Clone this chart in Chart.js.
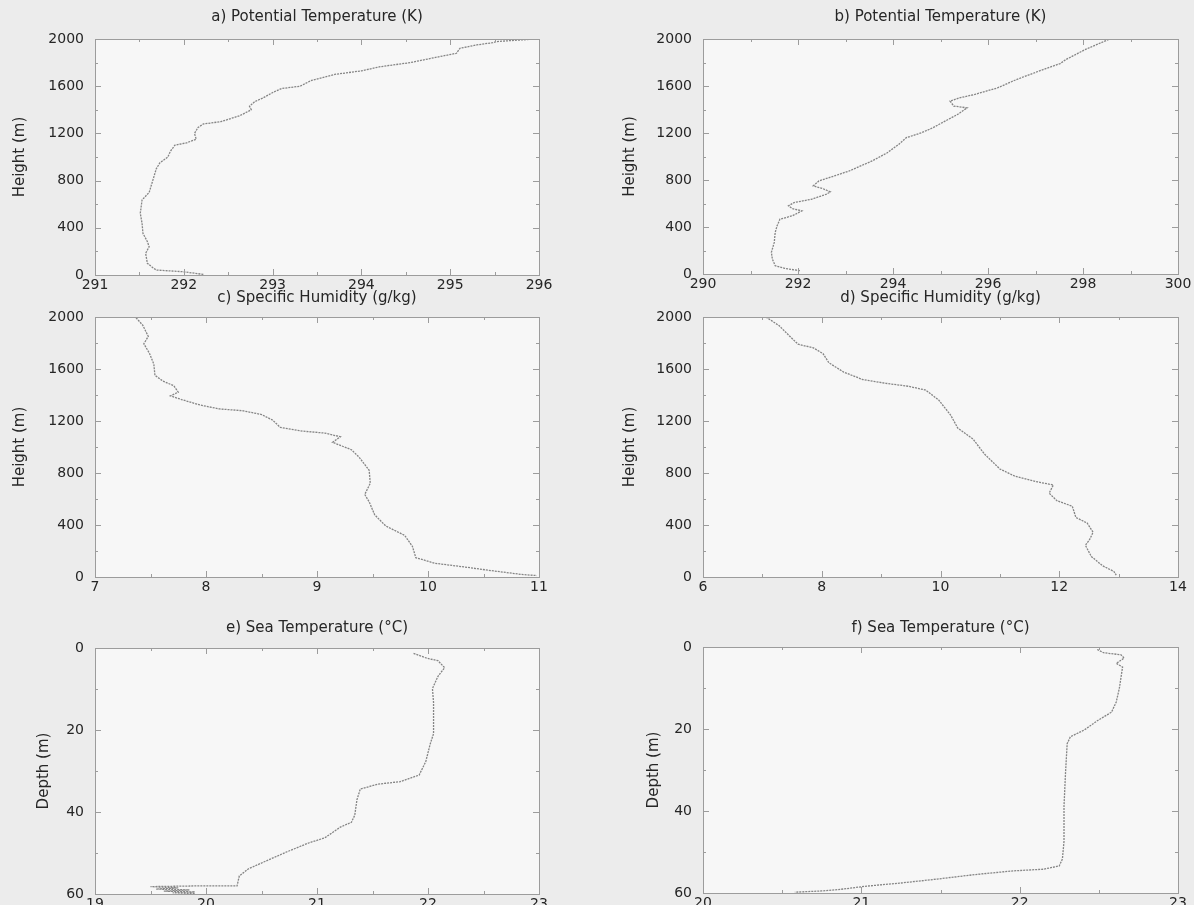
<!DOCTYPE html>
<html><head><meta charset="utf-8">
<script src="https://cdn.jsdelivr.net/npm/chart.js@4.4.1/dist/chart.umd.min.js"></script>
<style>
html,body{margin:0;padding:0;background:#ececec;}
#wrap{position:relative;width:1194px;height:905px;overflow:hidden;background:#ececec;}
canvas{position:absolute;}
</style></head><body><div id="wrap">
<canvas id="pa"></canvas><canvas id="pb"></canvas>
<canvas id="pc"></canvas><canvas id="pd"></canvas>
<canvas id="pe"></canvas><canvas id="pf"></canvas>
</div>
<script>
// ---------- data ----------
const aTemp = [292.22,291.99,291.69,291.66,291.59,291.57,291.61,291.59,291.54,291.53,291.51,291.53,291.61,291.65,291.69,291.73,291.82,291.85,291.90,292.03,292.14,292.12,292.16,292.22,292.42,292.63,292.76,292.74,292.80,292.89,293.01,293.10,293.31,293.44,293.70,294.00,294.21,294.55,294.81,295.07,295.11,295.30,295.48,295.52,295.75,295.97];
const aHeight = [5,28,42,57,99,184,240,282,353,438,523,636,700,800,900,950,1000,1050,1100,1120,1150,1200,1250,1280,1300,1350,1400,1430,1470,1500,1550,1580,1600,1650,1700,1730,1765,1800,1840,1879,1921,1950,1969,1978,1990,2000];

const bTemp = [292.04,291.72,291.52,291.46,291.44,291.50,291.52,291.56,291.62,291.88,292.08,291.88,291.80,291.92,292.28,292.60,292.68,292.52,292.32,292.44,292.76,293.08,293.40,293.56,293.88,294.12,294.28,294.60,294.84,295.16,295.36,295.56,295.28,295.20,295.40,295.72,296.20,296.60,297.16,297.52,297.64,298.04,298.56];
const bHeight = [28,48,71,127,184,269,354,410,467,495,537,557,580,608,636,679,699,727,750,792,834,877,934,962,1032,1103,1160,1202,1245,1315,1358,1414,1429,1471,1499,1528,1584,1655,1740,1791,1825,1909,2000];

const cHum = [7.37,7.43,7.48,7.44,7.49,7.53,7.54,7.61,7.71,7.75,7.68,7.78,7.95,8.12,8.33,8.50,8.60,8.67,8.87,9.07,9.21,9.14,9.31,9.38,9.47,9.48,9.43,9.47,9.52,9.62,9.79,9.86,9.89,10.06,10.33,10.57,10.84,10.98];
const cHeight = [1994,1937,1851,1794,1722,1637,1551,1508,1471,1422,1393,1365,1322,1293,1279,1250,1207,1150,1122,1107,1079,1036,979,921,821,721,635,578,478,392,320,235,149,106,77,49,20,11];

const dHum = [7.06,7.28,7.47,7.60,7.86,8.02,8.12,8.37,8.69,9.08,9.46,9.75,9.97,10.17,10.29,10.55,10.74,11.00,11.26,11.64,11.90,11.83,11.96,12.22,12.28,12.47,12.57,12.51,12.44,12.54,12.73,12.92,12.96];
const dHeight = [2000,1934,1848,1791,1762,1719,1648,1576,1519,1490,1467,1438,1361,1246,1146,1060,946,831,774,731,708,645,587,544,458,415,344,287,244,158,86,43,14];

const eTemp = [21.87,21.99,22.09,22.15,22.09,22.04,22.05,22.05,22.02,21.98,21.92,21.75,21.55,21.39,21.36,21.34,21.31,21.21,21.07,20.93,20.73,20.52,20.38,20.30,20.28,19.97,19.50,19.75,19.55,19.85,19.62,19.90,19.70,19.90];
const eDepth = [1.3,2.5,3.1,4.8,6.9,9.9,13.3,20.9,23.4,27.7,31.0,32.6,33.2,34.4,37.0,40.8,42.5,43.7,46.3,47.5,49.7,52.2,53.9,55.6,58.0,58.0,58.2,58.5,58.8,59.0,59.3,59.5,59.7,59.9];

const fTemp = [22.49,22.53,22.64,22.66,22.61,22.65,22.64,22.63,22.61,22.58,22.49,22.41,22.32,22.30,22.29,22.28,22.28,22.27,22.25,22.15,21.96,21.72,21.48,21.24,21.04,20.87,20.75,20.58];
const fDepth = [0.6,1.4,1.9,2.7,4.0,4.9,7.4,10.0,13.4,15.9,18.0,20.2,21.9,23.6,30.4,38.9,47.4,51.7,53.4,54.2,54.6,55.5,56.6,57.6,58.3,59.1,59.5,59.8];

// ---------- tick labels ----------
const heightTicks = [0,400,800,1200,1600,2000];
const depthTicks = [0,20,40,60];
const aXTicks = [291,292,293,294,295,296];
const bXTicks = [290,292,294,296,298,300];
const cXTicks = [7,8,9,10,11];
const dXTicks = [6,8,10,12,14];
const eXTicks = [19,20,21,22,23];
const fXTicks = [20,21,22,23];

const titles = ['a) Potential Temperature (K)','b) Potential Temperature (K)','c) Specific Humidity (g/kg)','d) Specific Humidity (g/kg)','e) Sea Temperature (°C)','f) Sea Temperature (°C)'];
const yTitles = ['Height (m)','Height (m)','Height (m)','Height (m)','Depth (m)','Depth (m)'];

// ---------- rendering ----------
const FONT = "'DejaVu Sans', 'Liberation Sans', Arial, sans-serif";
const TXT = '#262626';
const AXIS = '#9c9c9c';

function midpoints(arr){ const out=[]; for(let i=0;i<arr.length-1;i++) out.push((arr[i]+arr[i+1])/2); return out; }

const framePlugin = {
  id: 'frame',
  beforeDraw(chart){
    const a = chart.chartArea, ctx = chart.ctx;
    ctx.save(); ctx.fillStyle = '#f7f7f7';
    ctx.fillRect(a.left, a.top, a.right-a.left, a.bottom-a.top);
    ctx.restore();
  },
  afterDatasetsDraw(chart){
    const a = chart.chartArea, ctx = chart.ctx;
    const xs = chart.scales.x, ys = chart.scales.y;
    const o = chart.options.plugins.frame;
    ctx.save();
    ctx.strokeStyle = AXIS; ctx.lineWidth = 1;
    ctx.strokeRect(Math.round(a.left)+0.5, Math.round(a.top)+0.5, Math.round(a.right-a.left), Math.round(a.bottom-a.top));
    ctx.beginPath();
    const xt = (vals, len) => vals.forEach(v => { const p = Math.round(xs.getPixelForValue(v))+0.5;
      ctx.moveTo(p, a.bottom); ctx.lineTo(p, a.bottom-len); ctx.moveTo(p, a.top); ctx.lineTo(p, a.top+len); });
    const yt = (vals, len) => vals.forEach(v => { const p = Math.round(ys.getPixelForValue(v))+0.5;
      ctx.moveTo(a.left, p); ctx.lineTo(a.left+len, p); ctx.moveTo(a.right, p); ctx.lineTo(a.right-len, p); });
    xt(o.xMajor, 6); xt(midpoints(o.xMajor), 3);
    yt(o.yMajor, 6); yt(midpoints(o.yMajor), 3);
    ctx.stroke();
    ctx.restore();
  }
};

function makePanel(id, box, xs, ys, xTicks, yTicks, title, yTitle, reverse){
  const cv = document.getElementById(id);
  cv.width = box.cw; cv.height = box.ch;
  cv.style.left = box.cl + 'px'; cv.style.top = box.ct + 'px';
  cv.style.width = box.cw + 'px'; cv.style.height = box.ch + 'px';
  const titleFont = 15, titleLH = titleFont*1.2;
  const padTop = box.titleY - box.ct - titleLH/2;
  const titleBottom = box.T - box.ct - padTop - titleLH;
  const yWidth = box.L - box.cl - box.pl;
  const xHeight = box.ct + box.ch - box.B;
  const rightPad = box.cl + box.cw - box.R;
  new Chart(cv, {
    type: 'scatter',
    data: { datasets: [{
      data: xs.map((x,i)=>({x:x, y:ys[i]})),
      showLine: true, pointRadius: 0, pointHoverRadius: 0,
      borderColor: '#858585', borderWidth: 1.3, borderDash: [2,1], fill: false, tension: 0
    }]},
    options: {
      responsive: false, animation: false, events: [],
      devicePixelRatio: 1,
      layout: { padding: { left: box.pl, right: rightPad, top: padTop, bottom: 0 } },
      plugins: {
        legend: { display: false }, tooltip: { enabled: false },
        title: { display: true, text: title, fullSize: false, color: TXT,
                 font: { family: FONT, size: titleFont, weight: 'normal', lineHeight: 1.2 },
                 padding: { top: 0, bottom: titleBottom } },
        frame: { xMajor: xTicks, yMajor: yTicks }
      },
      scales: {
        x: {
          type: 'linear', position: 'bottom',
          min: xTicks[0], max: xTicks[xTicks.length-1],
          grid: { display: false, drawTicks: false }, border: { display: false },
          afterBuildTicks: s => { s.ticks = xTicks.map(v => ({ value: v })); },
          afterFit: s => { s.height = xHeight; s.paddingLeft = 0; s.paddingRight = 0; },
          ticks: { color: TXT, font: { family: FONT, size: 14 }, padding: 2, autoSkip: false,
                   maxRotation: 0, minRotation: 0, callback: v => String(v) }
        },
        y: {
          type: 'linear', position: 'left', reverse: !!reverse,
          min: yTicks[0], max: yTicks[yTicks.length-1],
          grid: { display: false, drawTicks: false }, border: { display: false },
          afterBuildTicks: s => { s.ticks = yTicks.map(v => ({ value: v })); },
          afterFit: s => { s.width = yWidth; s.paddingTop = 0; s.paddingBottom = 0; },
          title: { display: true, text: yTitle, color: TXT, padding: 0,
                   font: { family: FONT, size: 15, lineHeight: 1.2 } },
          ticks: { color: TXT, font: { family: FONT, size: 14 }, padding: 11, autoSkip: false,
                   callback: v => String(v) }
        }
      }
    },
    plugins: [framePlugin]
  });
}

// layout boxes (page pixels)
const boxA = { cl:0,   ct:0,   cw:597, ch:300, L:95,  T:39,  R:539,  B:275, titleY:17,  pl:11 };
const boxB = { cl:597, ct:0,   cw:597, ch:300, L:703, T:39,  R:1178, B:274, titleY:17,  pl:24 };
const boxC = { cl:0,   ct:280, cw:597, ch:320, L:95,  T:317, R:539,  B:577, titleY:298, pl:11 };
const boxD = { cl:597, ct:280, cw:597, ch:320, L:703, T:317, R:1178, B:577, titleY:298, pl:24 };
const boxE = { cl:0,   ct:605, cw:597, ch:320, L:95,  T:648, R:539,  B:894, titleY:628, pl:35 };
const boxF = { cl:597, ct:605, cw:597, ch:320, L:703, T:647, R:1178, B:893, titleY:628, pl:48 };

makePanel('pa', boxA, aTemp, aHeight, aXTicks, heightTicks, titles[0], yTitles[0], false);
makePanel('pb', boxB, bTemp, bHeight, bXTicks, heightTicks, titles[1], yTitles[1], false);
makePanel('pc', boxC, cHum, cHeight, cXTicks, heightTicks, titles[2], yTitles[2], false);
makePanel('pd', boxD, dHum, dHeight, dXTicks, heightTicks, titles[3], yTitles[3], false);
makePanel('pe', boxE, eTemp, eDepth, eXTicks, depthTicks, titles[4], yTitles[4], true);
makePanel('pf', boxF, fTemp, fDepth, fXTicks, depthTicks, titles[5], yTitles[5], true);
</script>
</body></html>
